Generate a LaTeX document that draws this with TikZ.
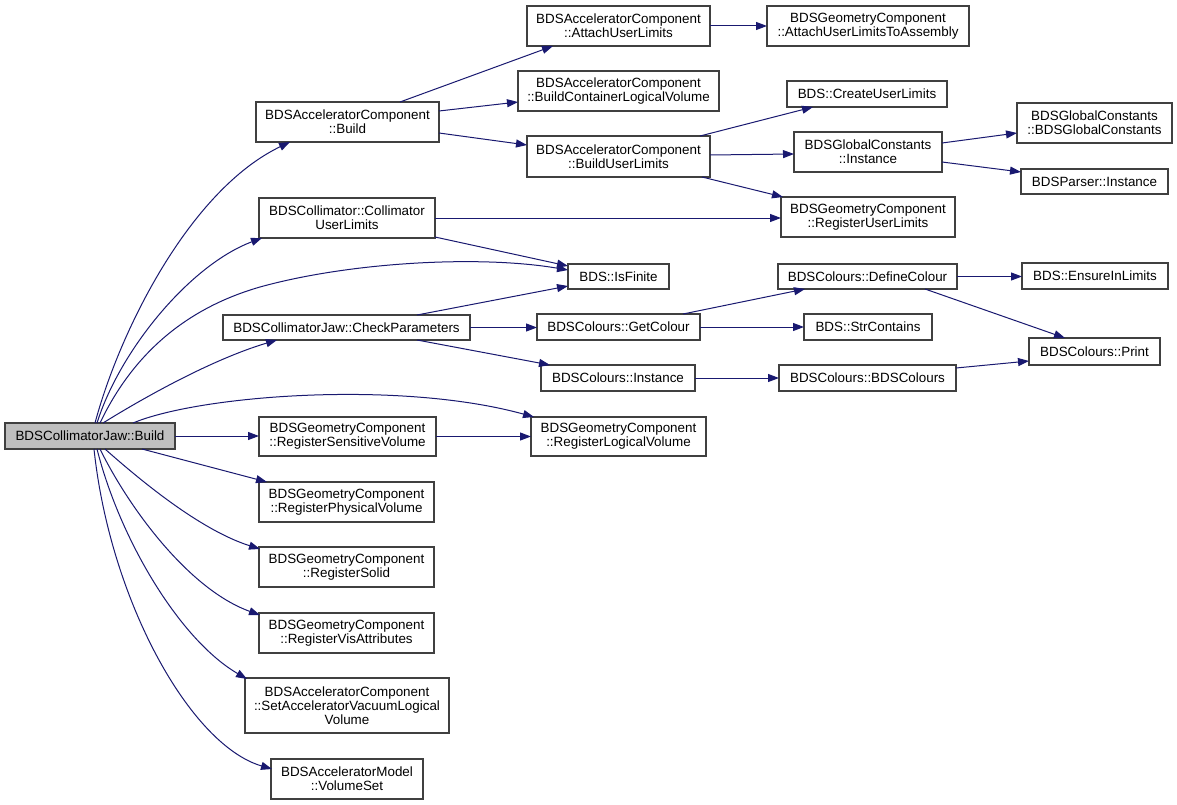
\documentclass[tikz,border=0pt]{standalone}
\usepackage{fontspec}
\setmainfont{Liberation Sans}
\usetikzlibrary{arrows.meta,calc}
\definecolor{edgec}{HTML}{191970}
\definecolor{rootc}{HTML}{BFBFBF}
\definecolor{borderc}{HTML}{404040}
\begin{document}
\begin{tikzpicture}[x=1pt,y=-1pt,
  box/.style={draw=borderc, line width=1.2pt, fill=white, inner sep=1pt, outer sep=0pt,
    align=center, font=\fontsize{13.4}{14}\selectfont, text=black},
  rootbox/.style={box, fill=rootc},
  call/.style={draw=edgec, line width=1pt, -{Triangle[length=11pt,width=8pt]}}]
\useasboundingbox[fill=white] (0,0) rectangle (1177,805);

% column 0
\node[rootbox, minimum width=170pt, minimum height=26pt] (root) at (90,436) {BDSCollimatorJaw::Build};
% column 1
\node[box, minimum width=183pt, minimum height=40pt] (acb) at (347.5,122) {BDSAcceleratorComponent\\::Build};
\node[box, minimum width=176pt, minimum height=40pt] (cul) at (347,218) {BDSCollimator::Collimator\\UserLimits};
\node[box, minimum width=247pt, minimum height=25pt] (chk) at (346.5,327.5) {BDSCollimatorJaw::CheckParameters};
\node[box, minimum width=177pt, minimum height=39pt] (rsv) at (347.5,436.5) {BDSGeometryComponent\\::RegisterSensitiveVolume};
\node[box, minimum width=175pt, minimum height=40pt] (rpv) at (346.5,502) {BDSGeometryComponent\\::RegisterPhysicalVolume};
\node[box, minimum width=175pt, minimum height=40pt] (rso) at (346.5,567) {BDSGeometryComponent\\::RegisterSolid};
\node[box, minimum width=175pt, minimum height=40pt] (rva) at (346.5,633) {BDSGeometryComponent\\::RegisterVisAttributes};
\node[box, minimum width=204pt, minimum height=55pt] (sav) at (347,705.5) {BDSAcceleratorComponent\\::SetAcceleratorVacuumLogical\\Volume};
\node[box, minimum width=152pt, minimum height=40pt] (vset) at (347,779) {BDSAcceleratorModel\\::VolumeSet};
% column 2
\node[box, minimum width=183pt, minimum height=40pt] (aul) at (618.5,26) {BDSAcceleratorComponent\\::AttachUserLimits};
\node[box, minimum width=201pt, minimum height=40pt] (bcl) at (618.5,91) {BDSAcceleratorComponent\\::BuildContainerLogicalVolume};
\node[box, minimum width=183pt, minimum height=41pt] (bul) at (618.5,156.5) {BDSAcceleratorComponent\\::BuildUserLimits};
\node[box, minimum width=101pt, minimum height=25pt] (isf) at (618.5,276.5) {BDS::IsFinite};
\node[box, minimum width=163pt, minimum height=26pt] (gcol) at (618.5,327) {BDSColours::GetColour};
\node[box, minimum width=154pt, minimum height=26pt] (cins) at (618,378) {BDSColours::Instance};
\node[box, minimum width=175pt, minimum height=39pt] (rlv) at (618.5,436.5) {BDSGeometryComponent\\::RegisterLogicalVolume};
% column 3
\node[box, minimum width=202pt, minimum height=40pt] (aua) at (868,26) {BDSGeometryComponent\\::AttachUserLimitsToAssembly};
\node[box, minimum width=160pt, minimum height=26pt] (cru) at (867,94) {BDS::CreateUserLimits};
\node[box, minimum width=148pt, minimum height=40pt] (gci) at (868,152) {BDSGlobalConstants\\::Instance};
\node[box, minimum width=174pt, minimum height=40pt] (rul) at (868,217) {BDSGeometryComponent\\::RegisterUserLimits};
\node[box, minimum width=179pt, minimum height=25pt] (dcol) at (867.5,276.5) {BDSColours::DefineColour};
\node[box, minimum width=128pt, minimum height=26pt] (strc) at (868,327) {BDS::StrContains};
\node[box, minimum width=177pt, minimum height=26pt] (bdsc) at (867.5,378) {BDSColours::BDSColours};
% column 4
\node[box, minimum width=155pt, minimum height=40pt] (gcg) at (1094.5,123) {BDSGlobalConstants\\::BDSGlobalConstants};
\node[box, minimum width=147pt, minimum height=25pt] (pins) at (1094.5,181.5) {BDSParser::Instance};
\node[box, minimum width=146pt, minimum height=26pt] (eil) at (1095,276) {BDS::EnsureInLimits};
\node[box, minimum width=131pt, minimum height=27pt] (prt) at (1094.5,351.5) {BDSColours::Print};

% edges from root
\draw[call] ($(root.north)+(5,0)$) .. controls (120,330) and (190,190) .. ($(acb.south)+(-57.5,0)$);
\draw[call] ($(root.north)+(7,0)$) .. controls (120,350) and (190,265) .. ($(cul.south west)+(3,0)$);
\coordinate (isfvia) at (260,287);
\draw[call] ($(root.north)+(10,0)$) .. controls (130,360) and (180,310) .. (isfvia)
   .. controls (350,262) and (480,255) .. ($(isf.west)+(0,-6.5)$);
\draw[call] ($(root.north)+(13,0)$) .. controls (140,400) and (210,360) .. ($(chk.south)+(-69.5,0)$);
\draw[call] ($(root.north)+(43,0)$) .. controls (200,395) and (400,380) .. ($(rlv.north west)+(3,0)$);
\draw[call] (root.east) -- (root.east -| rsv.west);
\draw[call] ($(root.south)+(52,0)$) -- ($(rpv.north west)+(8,0)$);
\draw[call] ($(root.south)+(15,0)$) .. controls (140,480) and (200,530) .. ($(rso.north west)+(1,2)$);
\draw[call] ($(root.south)+(10,0)$) .. controls (130,510) and (190,590) .. ($(rva.north west)+(1,2)$);
\draw[call] ($(root.south)+(7,0)$) .. controls (120,540) and (180,640) .. ($(sav.north west)+(2,1)$);
\draw[call] ($(root.south)+(4,0)$) .. controls (110,600) and (190,745) .. ($(vset.north west)+(1,10)$);

% other edges
\draw[call] ($(acb.north)+(52.5,0)$) -- ($(aul.south)+(-65.5,0)$);
\draw[call] ($(acb.east)+(0,-11)$) -- ($(bcl.west)+(0,11)$);
\draw[call] ($(acb.east)+(0,11)$) -- ($(bul.west)+(0,-11.5)$);
\draw[call] (aul.east) -- (aua.west);
\draw[call] ($(bul.north)+(81.5,0)$) -- ($(cru.south)+(-54,0)$);
\draw[call] ($(bul.east)+(0,-1.5)$) -- ($(gci.west)+(0,2)$);
\draw[call] ($(bul.south)+(83.5,0)$) -- ($(rul.north west)+(2,0)$);
\draw[call] ($(gci.east)+(0,-9)$) -- ($(gcg.west)+(0,10)$);
\draw[call] ($(gci.east)+(0,10)$) -- ($(pins.west)+(0,-9.5)$);
\draw[call] (cul.east) -- (cul.east -| rul.west);
\draw[call] ($(cul.south east)+(0,-1)$) -- ($(isf.west)+(0,-10.5)$);
\draw[call] ($(chk.north)+(70.5,0)$) -- ($(isf.west)+(0,9.5)$);
\draw[call] (chk.east) -- (chk.east -| gcol.west);
\draw[call] ($(chk.south)+(70.5,0)$) -- ($(cins.north west)+(9,0)$);
\draw[call] ($(gcol.north)+(64.5,0)$) -- ($(dcol.south)+(-62.5,0)$);
\draw[call] (gcol.east) -- (gcol.east -| strc.west);
\draw[call] (dcol.east) -- (dcol.east -| eil.west);
\draw[call] ($(dcol.south)+(57.5,0)$) -- ($(prt.north)+(-29.5,0)$);
\draw[call] (cins.east) -- (cins.east -| bdsc.west);
\draw[call] ($(bdsc.east)+(0,-10)$) -- ($(prt.west)+(0,9.5)$);
\draw[call] (rsv.east) -- (rsv.east -| rlv.west);
\end{tikzpicture}
\end{document}
